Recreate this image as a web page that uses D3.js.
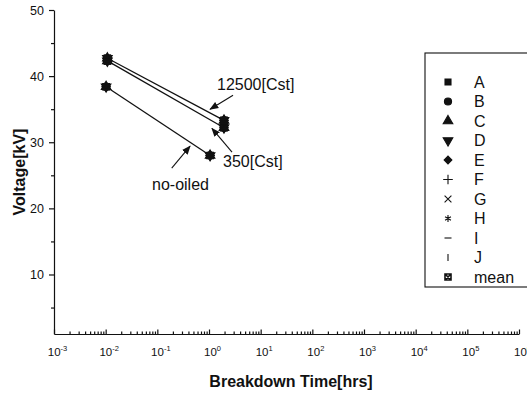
<!DOCTYPE html>
<html>
<head>
<meta charset="utf-8">
<script src="https://cdn.jsdelivr.net/npm/d3@7"></script>
<style>
  body { margin: 0; background: #fff; }
  text { font-family: "Liberation Sans", Arial, sans-serif; fill: #111; }
</style>
</head>
<body>
<div id="vis"></div>
<script>
const WIDTH = 527;
const HEIGHT = 394;

// data
const seriesNames = ["no-oiled", "350[Cst]", "12500[Cst]"];
const seriesTimes = [[0.0102, 1.05], [0.0108, 1.95], [0.0108, 1.95]];
const seriesVolts = [[38.4, 28.0], [42.3, 32.2], [42.7, 33.3]];

const legendNames = ["A", "B", "C", "D", "E", "F", "G", "H", "I", "J", "mean"];

const xMajor = [1e-3, 1e-2, 1e-1, 1e0, 1e1, 1e2, 1e3, 1e4, 1e5, 1e6];
const xExp = ["-3", "-2", "-1", "0", "1", "2", "3", "4", "5", "6"];
const yMajor = [10, 20, 30, 40, 50];
const yMinor = [5, 15, 25, 35, 45];

// annotations in data units: label position, arrow start, arrow end
const notes = [
  { text: "12500[Cst]", at: [1.43, 37.9], from: [2.92, 37.1], to: [1.05, 35.0] },
  { text: "350[Cst]", at: [1.87, 26.3], from: [2.79, 28.5], to: [1.14, 32.1] },
  { text: "no-oiled", at: [0.079, 22.8], from: [0.19, 26.1], to: [0.43, 29.4] }
];

const x = d3.scaleLog().domain([1e-3, 1e6]).range([54, 519]);
const y = d3.scaleLinear().domain([1, 50]).range([334, 10]);

const svg = d3.select("#vis").append("svg")
  .attr("width", WIDTH).attr("height", HEIGHT);

svg.append("defs").append("marker")
  .attr("id", "arr")
  .attr("viewBox", "0 0 10 10")
  .attr("refX", 9).attr("refY", 5)
  .attr("markerWidth", 9).attr("markerHeight", 9)
  .attr("markerUnits", "userSpaceOnUse")
  .attr("orient", "auto")
  .append("path").attr("d", "M0,1 L10,5 L0,9 Z").attr("fill", "#111");

// x axis
const xMinorVals = [];
xMajor.slice(0, -1).forEach(d => { for (let k = 2; k < 10; k++) xMinorVals.push(d * k); });

svg.append("g")
  .attr("transform", `translate(0,${y(1)})`)
  .call(d3.axisBottom(x).tickValues(xMinorVals).tickSize(-2.5).tickFormat(""))
  .call(g => g.select(".domain").remove());

const gx = svg.append("g")
  .attr("transform", `translate(0,${y(1)})`)
  .call(d3.axisBottom(x).tickValues(xMajor).tickSize(-4.5).tickSizeOuter(0).tickPadding(16).tickFormat(""));

gx.selectAll(".tick text").each(function(d, i) {
  const t = d3.select(this).attr("font-size", 11.5).attr("dx", "3px").attr("dy", "0.55em");
  t.append("tspan").text("10");
  t.append("tspan").text(xExp[i]).attr("font-size", 7.5).attr("dy", "-5");
});

// y axis
svg.append("g")
  .attr("transform", `translate(${x(1e-3)},0)`)
  .call(d3.axisLeft(y).tickValues(yMinor).tickSize(3).tickFormat(""))
  .call(g => g.select(".domain").remove());

svg.append("g")
  .attr("transform", `translate(${x(1e-3)},0)`)
  .call(d3.axisLeft(y).tickValues(yMajor).tickSize(5).tickSizeOuter(0).tickPadding(5))
  .call(g => g.selectAll(".tick text").attr("font-size", 12.5));

svg.selectAll(".domain, .tick line").attr("stroke", "#111").attr("stroke-width", 1.2);

// axis titles
svg.append("text")
  .attr("x", 291).attr("y", 387)
  .attr("text-anchor", "middle")
  .attr("font-size", 16).attr("font-weight", "bold")
  .text("Breakdown Time[hrs]");

svg.append("text")
  .attr("transform", "translate(25,172) rotate(-90)")
  .attr("text-anchor", "middle")
  .attr("font-size", 16).attr("font-weight", "bold")
  .text("Voltage[kV]");

// symbols for legend entries
const sym = (type, size) => d3.symbol(type, size)();
const symbolDefs = [
  { d: sym(d3.symbolSquare, 36), fill: true },
  { d: sym(d3.symbolCircle, 40), fill: true },
  { d: sym(d3.symbolTriangle, 40), fill: true },
  { d: sym(d3.symbolTriangle, 40), fill: true, rot: 180 },
  { d: sym(d3.symbolSquare, 30), fill: true, rot: 45 },
  { d: sym(d3.symbolPlus, 32), fill: false },
  { d: sym(d3.symbolTimes, 32), fill: false },
  { d: sym(d3.symbolAsterisk, 32), fill: false },
  { d: "M-3.5,0H3.5", fill: false },
  { d: "M0,-3.5V3.5", fill: false },
  { d: "M-3,-3H3V3H-3Z M-3,-3L3,3 M3,-3L-3,3", fill: false, mean: true }
];

function drawSymbol(g, s) {
  g.append("path")
    .attr("d", s.d)
    .attr("transform", s.rot ? `rotate(${s.rot})` : null)
    .attr("fill", s.fill ? "#111" : "none")
    .attr("stroke", "#111")
    .attr("stroke-width", s.mean ? 1.6 : 1.1);
}

// lines
const line = d3.line().x(d => x(d[0])).y(d => y(d[1]));
seriesNames.forEach((name, i) => {
  const pts = seriesTimes[i].map((t, j) => [t, seriesVolts[i][j]]);
  svg.append("path")
    .datum(pts)
    .attr("d", line)
    .attr("fill", "none")
    .attr("stroke", "#111")
    .attr("stroke-width", 1.3);
  pts.forEach(p => {
    const g = svg.append("g").attr("transform", `translate(${x(p[0])},${y(p[1])})`);
    symbolDefs.forEach(s => drawSymbol(g, s));
  });
});

// annotations
notes.forEach(n => {
  svg.append("text")
    .attr("x", x(n.at[0])).attr("y", y(n.at[1]))
    .attr("font-size", 16)
    .text(n.text);
  svg.append("line")
    .attr("x1", x(n.from[0])).attr("y1", y(n.from[1]))
    .attr("x2", x(n.to[0])).attr("y2", y(n.to[1]))
    .attr("stroke", "#111").attr("stroke-width", 1.1)
    .attr("marker-end", "url(#arr)");
});

// legend
const legend = svg.append("g");
legend.append("rect")
  .attr("x", 425).attr("y", 53).attr("width", 110).attr("height", 234)
  .attr("fill", "#fff").attr("stroke", "#111").attr("stroke-width", 1.1);

const rowY = d3.scalePoint().domain(legendNames).range([82, 277]);
legendNames.forEach((name, i) => {
  const g = legend.append("g").attr("transform", `translate(448,${rowY(name)})`);
  drawSymbol(g, symbolDefs[i]);
  legend.append("text")
    .attr("x", 474).attr("y", rowY(name))
    .attr("dy", "0.36em")
    .attr("font-size", 16)
    .text(name);
});
</script>
</body>
</html>
